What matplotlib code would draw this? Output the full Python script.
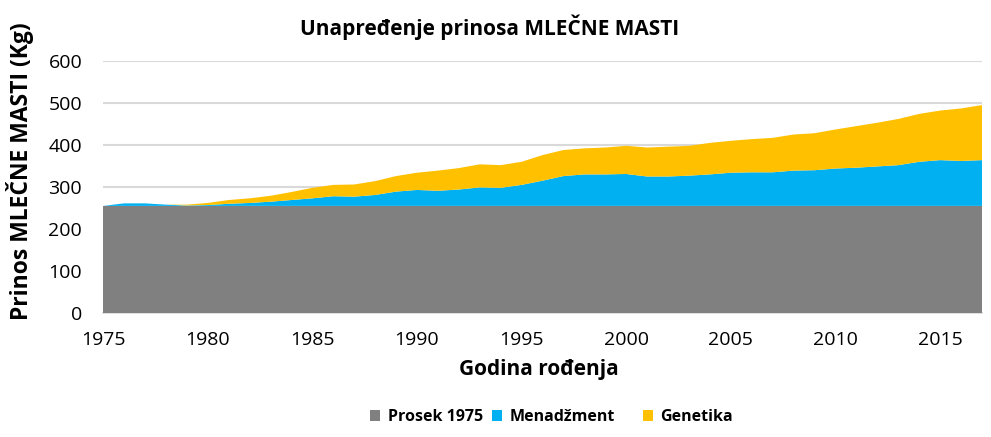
import matplotlib
matplotlib.use("Agg")
import matplotlib.pyplot as plt
import numpy as np

years = list(range(1975, 2018))
prosek_1975 = [255] * 43
menadzment_top = [255, 261, 261, 258, 256, 257, 260, 262, 265, 269,
                  273, 278, 277, 281, 289, 293, 291, 294, 299, 298,
                  305, 315, 326, 330, 330, 331, 325, 325, 327, 330,
                  334, 335, 335, 339, 340, 344, 346, 349, 352, 360,
                  364, 362, 364]
genetika_top = [255, 261, 261, 258, 258, 262, 269, 273, 279, 288,
                298, 305, 306, 314, 326, 334, 339, 345, 354, 352,
                360, 376, 388, 392, 394, 398, 394, 396, 398, 405,
                410, 414, 417, 425, 428, 437, 445, 453, 462, 474,
                482, 487, 495]
menadzment = [m - p for m, p in zip(menadzment_top, prosek_1975)]
genetika = [g - m for g, m in zip(genetika_top, menadzment_top)]

labels = ["Prosek 1975", "Menadžment", "Genetika"]
colors = ["#808080", "#00B0F0", "#FFC000"]
xticks = [1975, 1980, 1985, 1990, 1995, 2000, 2005, 2010, 2015]
yticks = [0, 100, 200, 300, 400, 500, 600]

plt.rcParams['font.family'] = ['Open Sans', 'DejaVu Sans']

W, H = 991, 437
fig = plt.figure(figsize=(W / 100, H / 100), dpi=100)
ax = fig.add_axes([103 / W, 1 - 313 / H, (982 - 103) / W, (313 - 61) / H])

polys = ax.stackplot(years, prosek_1975, menadzment, genetika, colors=colors,
                     labels=labels, linewidth=0, zorder=3)

ax.set_xlim(1975, 2017)
ax.set_ylim(0, 600)
ax.set_xticks(xticks)
ax.set_yticks(yticks)
ax.grid(axis='y', color='#d9d9d9', linewidth=1.5, zorder=0)
for s in ['top', 'right', 'left']:
    ax.spines[s].set_visible(False)
ax.spines['bottom'].set_color('#d9d9d9')
ax.spines['bottom'].set_linewidth(1.2)
ax.tick_params(axis='both', length=0, labelsize=14, colors='black')
ax.tick_params(axis='x', pad=13)
ax.tick_params(axis='y', pad=15)

fig.text(539 / W, 1 - 370 / H, "Godina rođenja", ha='center', va='center',
         fontsize=15, fontweight='bold')
fig.text(20 / W, 1 - 171 / H, "Prinos MLEČNE MASTI (Kg)", ha='center', va='center',
         rotation=90, fontsize=16.5, fontweight='bold')
fig.text(490 / W, 1 - 27 / H, "Unapređenje prinosa MLEČNE MASTI", ha='center',
         va='center', fontsize=15, fontweight='bold')

square_x = [370, 492, 643]
for poly, lab, sx in zip(polys, labels, square_x):
    fig.legend([poly], [lab], loc='center left',
               bbox_to_anchor=(sx / W, 1 - 417 / H), frameon=False,
               prop={'weight': 'bold', 'size': 11.5}, borderpad=0, borderaxespad=0,
               handlelength=0.65, handleheight=0.65, handletextpad=0.45)

fig.savefig("out.png", dpi=100)
